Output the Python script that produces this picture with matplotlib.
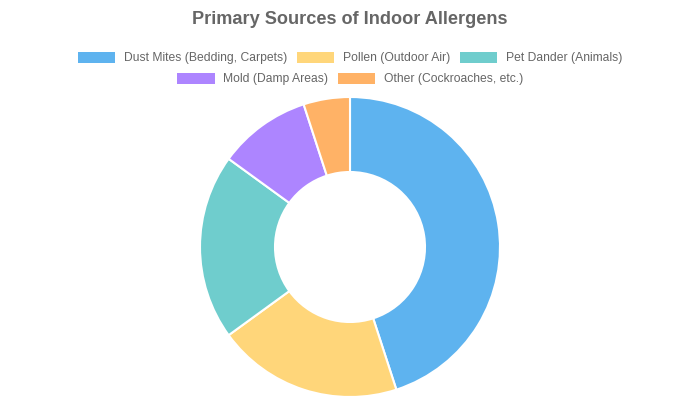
import matplotlib
matplotlib.use('agg')
import matplotlib.pyplot as plt
from matplotlib.patches import Patch

plt.rcParams['font.family'] = ['Liberation Sans', 'DejaVu Sans']

labels = ['Dust Mites (Bedding, Carpets)', 'Pollen (Outdoor Air)', 'Pet Dander (Animals)',
          'Mold (Damp Areas)', 'Other (Cockroaches, etc.)']
values = [45, 20, 20, 10, 5]
colors = ['#5eb3ef', '#ffd67a', '#6fcdcd', '#ad85ff', '#ffb266']

fig = plt.figure(figsize=(7, 4), dpi=100)
ax = fig.add_axes([200/700, 3/400, 300/700, 300/400])

wedges, _ = ax.pie(values, colors=colors, startangle=90, counterclock=False, radius=1,
                   wedgeprops=dict(width=0.5, edgecolor='white', linewidth=1.5))
ax.set_xlim(-1, 1)
ax.set_ylim(-1, 1)
ax.set_aspect('equal')
ax.axis('off')

fig.text(0.5, 1 - 19/400, 'Primary Sources of Indoor Allergens', ha='center', va='center',
         fontsize=13.1, fontweight='bold', color='#666666')

handles = [Patch(facecolor=c, edgecolor='none') for c in colors]

leg_kw = dict(loc='center', frameon=False, fontsize=8.7, handlelength=3.1, handleheight=1.1,
              handletextpad=0.7, columnspacing=0.8, labelcolor='#666666', borderpad=0)
leg1 = fig.legend(handles[:3], labels[:3], ncol=3, bbox_to_anchor=(0.5, 1 - 58/400), **leg_kw)
leg2 = fig.legend(handles[3:], labels[3:], ncol=2, bbox_to_anchor=(0.5, 1 - 79/400), **leg_kw)

fig.savefig('out.png', dpi=100)
